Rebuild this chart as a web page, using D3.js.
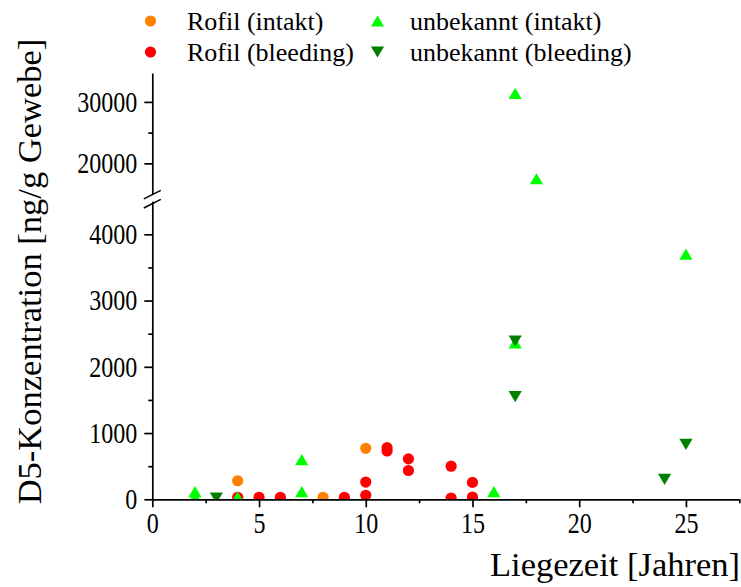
<!DOCTYPE html>
<html>
<head>
<meta charset="utf-8">
<script src="https://cdn.jsdelivr.net/npm/d3@7"></script>
<style>
  html, body { margin: 0; padding: 0; background: #fff; }
  svg { display: block; }
  svg text { font-family: "Liberation Serif", "Times New Roman", serif; }
</style>
</head>
<body>
<svg id="chart" width="741" height="587"></svg>
<script>
// Lying time in years and D5 concentration in ng/g tissue, per group
const rofilIntaktX = [4, 8, 10];
const rofilIntaktY = [280, 30, 770];

const rofilBleedingX = [4, 5, 6, 9, 10, 10, 11, 11, 12, 12, 14, 14, 15, 15];
const rofilBleedingY = [30, 30, 30, 30, 60, 260, 730, 780, 610, 435, 500, 20, 255, 35];

const unbekanntIntaktX = [2, 2, 4, 7, 7, 16, 17, 17, 18, 25];
const unbekanntIntaktY = [40, 115, 35, 600, 115, 115, 2360, 31400, 17500, 3700];

const unbekanntBleedingX = [3, 17, 17, 24, 25];
const unbekanntBleedingY = [20, 2390, 1550, 300, 830];

const xTicks = [0, 5, 10, 15, 20, 25];
const xMinorTicks = [2.5, 7.5, 12.5, 17.5, 22.5, 27.5];
const yLowTicks = [0, 1000, 2000, 3000, 4000];
const yLowMinorTicks = [500, 1500, 2500, 3500];
const yHighTicks = [20000, 30000];
const yHighMinorTicks = [25000];

const seriesNames = ["Rofil (intakt)", "Rofil (bleeding)", "unbekannt (intakt)", "unbekannt (bleeding)"];
const seriesColors = ["#ff8000", "#ff0000", "#00ff00", "#008000"];
const seriesShapes = ["circle", "circle", "up", "down"];

const FONT = '"Liberation Serif", "Times New Roman", serif';
const TICK_FONT_SIZE = 29;
const TICK_SQUEEZE = 0.83;   // narrow, tall tick numerals
const svg = d3.select("#chart");

// Scales: one x axis, y axis split into a low and a high segment
const x = d3.scaleLinear().domain([0, 27.5]).range([152.3, 739.3]);
const yLow = d3.scaleLinear().domain([0, 4500]).range([499.3, 201.2]);
const yHigh = d3.scaleLinear().domain([15000, 34700]).range([194.1, 73]);
const yPos = v => (v <= 4500 ? yLow(v) : yHigh(v));

// Marker shapes
function marker(sel, shape, color) {
  if (shape === "circle") {
    sel.append("circle").attr("r", 5.6).attr("fill", color);
  } else {
    const w = 6.6, h = 5.6;
    const p = shape === "up"
      ? `M0,${-h}L${w},${h}L${-w},${h}Z`
      : `M0,${h}L${w},${-h}L${-w},${-h}Z`;
    sel.append("path").attr("d", p).attr("fill", color);
  }
}

// Plot area clip
svg.append("defs").append("clipPath").attr("id", "plotClip")
  .append("rect").attr("x", 152.3).attr("y", 60).attr("width", 600).attr("height", 499.3 - 60);

const plot = svg.append("g").attr("clip-path", "url(#plotClip)");

const allSeries = [
  [rofilIntaktX, rofilIntaktY],
  [rofilBleedingX, rofilBleedingY],
  [unbekanntIntaktX, unbekanntIntaktY],
  [unbekanntBleedingX, unbekanntBleedingY]
];

allSeries.forEach(([xs, ys], i) => {
  const pts = xs.map((d, j) => ({ x: d, y: ys[j] }));
  plot.append("g").selectAll("g").data(pts).join("g")
    .attr("transform", d => `translate(${x(d.x)},${yPos(d.y)})`)
    .each(function () { marker(d3.select(this), seriesShapes[i], seriesColors[i]); });
});

// Axes
const axisStroke = 1.7;
function styleAxis(g) {
  g.attr("font-family", FONT).attr("font-size", TICK_FONT_SIZE);
  g.selectAll("path.domain").attr("stroke", "#000").attr("stroke-width", axisStroke);
  g.selectAll(".tick line").attr("stroke", "#000").attr("stroke-width", axisStroke);
  g.selectAll(".tick text").attr("fill", "#000")
    .attr("font-family", FONT).attr("font-size", TICK_FONT_SIZE);
}
// Compress tick labels horizontally around their anchor point
function squeezeLabels(g) {
  g.selectAll(".tick text").each(function () {
    const t = d3.select(this);
    const tx = +t.attr("x") || 0;
    t.attr("x", 0).attr("transform", `translate(${tx},0) scale(${TICK_SQUEEZE},1)`);
  });
}

// x axis
const gx = svg.append("g").attr("transform", "translate(0,499.3)")
  .call(d3.axisBottom(x).tickValues(xTicks).tickSize(8).tickSizeOuter(0).tickPadding(5).tickFormat(d3.format("d")));
styleAxis(gx);
squeezeLabels(gx);
svg.append("g").attr("transform", "translate(0,499.3)")
  .call(d3.axisBottom(x).tickValues(xMinorTicks).tickSize(4).tickFormat(""))
  .call(g => g.select(".domain").remove())
  .call(styleAxis);

// y axis, low segment
const gyl = svg.append("g").attr("transform", "translate(152.3,0)")
  .call(d3.axisLeft(yLow).tickValues(yLowTicks).tickSize(8).tickSizeOuter(0).tickPadding(7).tickFormat(d3.format("d")));
styleAxis(gyl);
squeezeLabels(gyl);
svg.append("g").attr("transform", "translate(152.3,0)")
  .call(d3.axisLeft(yLow).tickValues(yLowMinorTicks).tickSize(4).tickFormat(""))
  .call(g => g.select(".domain").remove())
  .call(styleAxis);

// y axis, high segment
const gyh = svg.append("g").attr("transform", "translate(152.3,0)")
  .call(d3.axisLeft(yHigh).tickValues(yHighTicks).tickSize(8).tickSizeOuter(0).tickPadding(7).tickFormat(d3.format("d")));
styleAxis(gyh);
squeezeLabels(gyh);
svg.append("g").attr("transform", "translate(152.3,0)")
  .call(d3.axisLeft(yHigh).tickValues(yHighMinorTicks).tickSize(4).tickFormat(""))
  .call(g => g.select(".domain").remove())
  .call(styleAxis);

// Break marks on the y axis
const bx = x(0);
[yLow(4500) + 2.5, yHigh(15000) + 0.5].forEach(cy => {
  svg.append("line")
    .attr("x1", bx - 8.5).attr("y1", cy + 4.3)
    .attr("x2", bx + 8.5).attr("y2", cy - 4.3)
    .attr("stroke", "#000").attr("stroke-width", 1.5);
});

// Axis titles
svg.append("text")
  .attr("x", 740).attr("y", 576)
  .attr("text-anchor", "end")
  .attr("font-family", FONT).attr("font-size", 34.5)
  .text("Liegezeit [Jahren]");

svg.append("text")
  .attr("transform", "translate(41,271.5) rotate(-90)")
  .attr("text-anchor", "middle")
  .attr("font-family", FONT).attr("font-size", 34.5)
  .text("D5-Konzentration [ng/g Gewebe]");

// Legend
const legendPos = [
  { mx: 150.5, tx: 187, y: 21 },
  { mx: 150.5, tx: 187, y: 52 },
  { mx: 377.5, tx: 410, y: 21 },
  { mx: 377.5, tx: 410, y: 52 }
];
seriesNames.forEach((name, i) => {
  const p = legendPos[i];
  const g = svg.append("g").attr("transform", `translate(${p.mx},${p.y})`);
  marker(g, seriesShapes[i], seriesColors[i]);
  svg.append("text")
    .attr("x", p.tx).attr("y", p.y + 8.5)
    .attr("font-family", FONT).attr("font-size", 26)
    .text(name);
});
</script>
</body>
</html>
